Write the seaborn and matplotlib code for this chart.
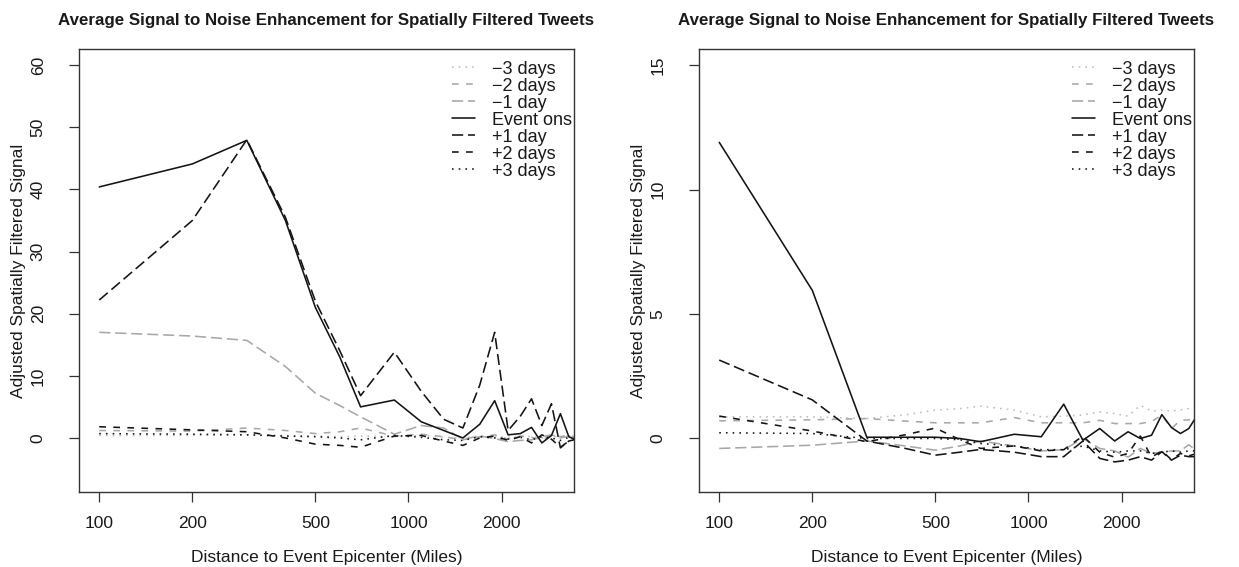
import numpy as np
import pandas as pd
import matplotlib
matplotlib.use("Agg")
import matplotlib.pyplot as plt
from matplotlib.lines import Line2D
import seaborn as sns

# ---------------- data ----------------
distance = [100, 200, 300, 400, 500, 600, 700, 900, 1100, 1300, 1500,
            1700, 1900, 2100, 2300, 2500, 2700, 2900, 3100, 3300, 3500]

series_names = ["\u22123 days", "\u22122 days", "\u22121 day", "Event ons",
                "+1 day", "+2 days", "+3 days"]

# left panel
left_m3 = [0.4, 0.4, 0.5, 0.4, 0.3, 0.2, 0.3, 0.2, 0.4, 0.1, 0.0, 0.3, 0.2, 0.1, 0.3, 0.2, 0.0, 0.3, 0.1, 0.2, 0.1]
left_m2 = [1.2, 1.1, 1.6, 1.2, 0.7, 1.0, 1.6, 0.3, 0.6, 0.2, -0.3, 0.2, 0.5, -0.2, 0.3, 0.1, -0.3, 0.4, 0.2, 0.5, 0.0]
left_m1 = [17.0, 16.4, 15.7, 11.5, 7.2, 5.2, 3.4, 0.6, 2.0, 1.6, -0.2, 0.3, -0.1, -0.6, -0.4, -0.3, 0.2, 0.5, 0.0, 0.3, 0.0]
left_onset = [40.4, 44.1, 47.9, 35.0, 21.0, 13.0, 5.0, 6.1, 2.6, 1.2, 0.0, 2.2, 6.0, 0.5, 0.7, 1.7, -0.8, 0.4, 3.9, 0.2, -0.4]
left_p1 = [22.2, 35.0, 48.0, 35.5, 22.0, 14.0, 6.8, 13.8, 7.5, 3.0, 1.6, 8.5, 17.0, 1.2, 3.5, 6.3, 2.0, 5.5, -1.6, -0.5, -0.2]
left_p2 = [1.8, 1.3, 1.0, 0.0, -1.0, -1.2, -1.5, 0.3, 0.4, -0.5, -1.2, 0.0, 0.3, -0.4, 0.2, -0.8, 0.5, -0.2, -1.5, -0.5, 0.0]
left_p3 = [0.7, 0.6, 0.5, 0.3, 0.2, 0.0, -0.3, 0.4, 0.1, -0.3, -0.4, 0.2, 0.0, -0.2, 0.1, -0.3, 0.2, 0.0, -0.4, 0.1, -0.2]

# right panel
right_m3 = [0.87, 0.87, 0.8, 0.95, 1.14, 1.2, 1.3, 1.14, 0.87, 0.9, 0.94, 1.07, 1.0, 0.9, 1.33, 1.1, 1.14, 1.1, 1.15, 1.2, 1.25]
right_m2 = [0.71, 0.75, 0.8, 0.7, 0.63, 0.63, 0.63, 0.84, 0.63, 0.63, 0.63, 0.73, 0.6, 0.6, 0.6, 0.68, 0.94, 0.4, 0.73, 0.75, 0.8]
right_m1 = [-0.4, -0.27, -0.1, -0.3, -0.47, -0.3, -0.1, -0.3, -0.5, -0.45, 0.0, -0.4, -0.5, -0.75, -0.4, -0.6, -0.55, -0.5, -0.5, -0.25, -0.5]
right_onset = [11.9, 5.95, 0.05, 0.05, 0.05, 0.0, -0.13, 0.17, 0.07, 1.38, -0.07, 0.4, -0.1, 0.27, 0.0, 0.13, 0.96, 0.44, 0.2, 0.4, 0.9]
right_p1 = [3.15, 1.55, -0.1, -0.4, -0.67, -0.55, -0.44, -0.55, -0.73, -0.73, -0.1, -0.8, -0.94, -0.87, -0.73, -0.87, -0.53, -0.87, -0.67, -0.73, -0.73]
right_p2 = [0.9, 0.3, -0.13, 0.15, 0.42, -0.05, -0.4, -0.3, -0.5, -0.45, 0.1, -0.55, -0.75, -0.6, 0.1, -0.75, -0.5, -0.85, -0.6, -0.7, -0.6]
right_p3 = [0.23, 0.2, 0.0, 0.0, 0.0, -0.05, -0.2, -0.3, -0.45, -0.45, -0.3, -0.5, -0.55, -0.5, -0.5, -0.6, -0.55, -0.5, -0.55, -0.5, -0.5]

x_ticks = [100, 200, 500, 1000, 2000]
left_yticks = [0, 10, 20, 30, 40, 50, 60]
right_yticks = [0, 5, 10, 15]

title_text = "Average Signal to Noise Enhancement for Spatially Filtered Tweets"
xlabel_text = "Distance to Event Epicenter (Miles)"
ylabel_text = "Adjusted Spatially Filtered Signal"

# ---------------- style ----------------
sns.set_style("ticks")
plt.rcParams["font.family"] = ["Liberation Sans", "DejaVu Sans"]

colors = {
    series_names[0]: "#bdbdbd",
    series_names[1]: "#a8a8a8",
    series_names[2]: "#a8a8a8",
    series_names[3]: "#141414",
    series_names[4]: "#141414",
    series_names[5]: "#141414",
    series_names[6]: "#141414",
}
dash_map = {
    series_names[0]: (1, 3.2),
    series_names[1]: (4.2, 4.6),
    series_names[2]: (7, 3),
    series_names[3]: "",
    series_names[4]: (7, 3),
    series_names[5]: (4.2, 4.6),
    series_names[6]: (1, 3.2),
}
LW = 1.15
FS = 12.5
TXT = "#1a1a1a"


def make_frame(values_list):
    rows = []
    for name, vals in zip(series_names, values_list):
        for d, v in zip(distance, vals):
            rows.append({"distance": d, "signal": v, "series": name})
    return pd.DataFrame(rows)


fig = plt.figure(figsize=(12.39, 5.67), dpi=100)
W, H = 1239, 567
box_l, box_w = 79, 495
box_b, box_t = 492, 49
ax1 = fig.add_axes([box_l / W, (H - box_b) / H, box_w / W, (box_b - box_t) / H])
ax2 = fig.add_axes([(box_l + 620) / W, (H - box_b) / H, box_w / W, (box_b - box_t) / H])

panels = [
    (ax1, [left_m3, left_m2, left_m1, left_onset, left_p1, left_p2, left_p3], (-8.7, 62.6), left_yticks),
    (ax2, [right_m3, right_m2, right_m1, right_onset, right_p1, right_p2, right_p3], (-2.15, 15.65), right_yticks),
]

for ax, vals, ylim, yticks in panels:
    df = make_frame(vals)
    sns.lineplot(data=df, x="distance", y="signal", hue="series", style="series",
                 hue_order=series_names, style_order=series_names,
                 palette=colors, dashes=dash_map, linewidth=LW,
                 legend=False, ax=ax, estimator=None, sort=True)
    ax.set_xscale("log")
    ax.set_xlim(86, 3430)
    ax.set_ylim(*ylim)
    ax.set_xticks(x_ticks)
    ax.set_xticklabels([str(t) for t in x_ticks])
    ax.xaxis.set_minor_locator(matplotlib.ticker.NullLocator())
    ax.set_yticks(yticks)
    ax.set_yticklabels([str(t) for t in yticks], rotation=90, va="center")
    ax.tick_params(axis="both", direction="out", length=7, width=0.9,
                   color="#333333", labelsize=FS, labelcolor=TXT)
    ax.tick_params(axis="x", pad=10)
    ax.tick_params(axis="y", pad=17)
    for sp in ax.spines.values():
        sp.set_visible(True)
        sp.set_linewidth(1.0)
        sp.set_color("#333333")
    ax.set_xlabel(xlabel_text, fontsize=FS, color=TXT, labelpad=14)
    ax.set_ylabel(ylabel_text, fontsize=FS, color=TXT, labelpad=3)
    ax.set_title(title_text, fontsize=12.2, fontweight="bold", color=TXT, pad=17)
    ax.grid(False)

    handles = []
    for name in series_names:
        d = dash_map[name]
        h = Line2D([0], [0], color=colors[name], linewidth=LW)
        if d != "":
            h.set_dashes(d)
        handles.append(h)
    leg = ax.legend(handles, series_names, loc="upper left",
                    bbox_to_anchor=(0.7535, 0.974), frameon=False,
                    fontsize=13, handlelength=1.28, handletextpad=0.94,
                    labelspacing=0.0, borderpad=0, borderaxespad=0)
    for t in leg.get_texts():
        t.set_color(TXT)

fig.savefig("out.png", dpi=100)
